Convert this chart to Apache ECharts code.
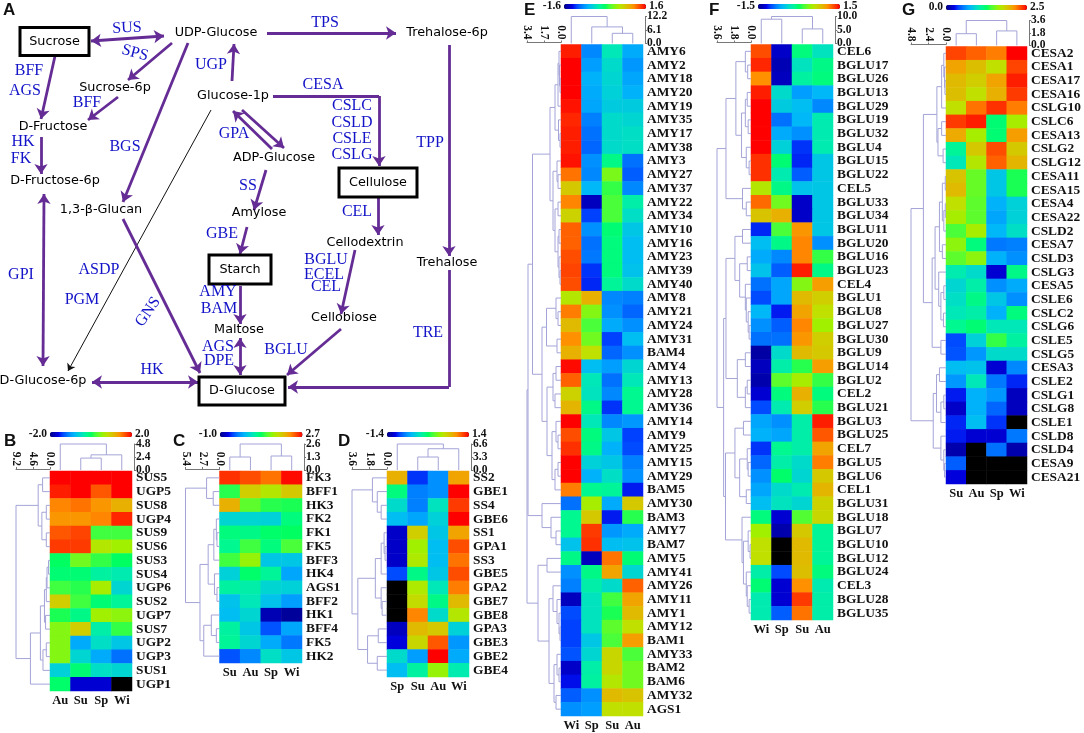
<!DOCTYPE html>
<html><head><meta charset="utf-8">
<style>html,body{margin:0;padding:0;background:#fff}#c{width:1084px;height:733px}</style>
<script src="https://cdn.jsdelivr.net/npm/echarts@6/dist/echarts.min.js"></script>
</head><body><div id="c"></div><script>
// Heat levels are positions on each panel's colour bar (0 = low end, 100 = high end); -1 = black, off-scale cell.
const bGenes=['SUS5','UGP5','SUS8','UGP4','SUS9','SUS6','SUS3','SUS4','UGP6','SUS2','UGP7','SUS7','UGP2','UGP3','SUS1','UGP1'];
const bSeasons=['Au','Su','Sp','Wi'];
const bRange=[-2.0,2.0];
const bLevels=[[100,100,100,100],[97,100,91,100],[86,88,84,80],[84,84,86,96],[91,93,55,55],[94,94,68,65],[50,60,54,50],[48,48,43,41],[55,53,66,36],[74,55,48,44],[52,46,65,63],[62,74,42,54],[62,28,38,33],[62,36,28,20],[35,48,38,36],[49,8,8,-1]];
const bRowTree=[9.2,[3.2,[2.0,0,1],[2.2,[1.0,2,3],[1.0,4,5]]],[5.3,[2.6,[1.5,[1.0,[0.8,[0.4,6,7],8],9],[1.2,10,11]],[1.9,[1.0,12,13],14]],15]];
const bColTree=[4.8,0,[2.8,[2.2,1,2],3]];

const cGenes=['FK3','BFF1','HK3','FK2','FK1','FK5','BFF3','HK4','AGS1','BFF2','HK1','BFF4','FK5','HK2'];
const cSeasons=['Su','Au','Sp','Wi'];
const cRange=[-1.0,2.7];
const cLevels=[[95,92,88,99],[53,74,68,75],[80,58,53,52],[36,36,35,47],[47,46,49,50],[45,55,47,56],[55,64,33,33],[35,49,44,27],[43,42,36,35],[32,40,32,26],[31,36,5,2],[43,33,17,27],[44,36,28,21],[17,23,38,33]];
const cRowTree=[5.4,[2.05,0,[1.0,1,2]],[3.1,[1.8,[0.9,[0.5,3,[0.4,4,5]],6],[0.8,7,[0.4,8,9]]],[2.5,[1.3,10,[0.5,11,12]],13]]];
const cColTree=[2.6,[1.3,0,1],[1.4,2,3]];

const dGenes=['SS2','GBE1','SS4','GBE6','SS1','GPA1','SS3','GBE5','GPA2','GBE7','GBE8','GPA3','GBE3','GBE2','GBE4'];
const dSeasons=['Sp','Su','Au','Wi'];
const dRange=[-1.4,1.4];
const dLevels=[[80,14,24,82],[47,22,24,100],[37,22,39,94],[31,27,35,100],[7,74,33,82],[7,65,31,92],[7,67,31,88],[16,46,33,92],[-1,67,40,87],[-1,71,46,78],[-1,86,37,68],[6,78,75,35],[9,72,91,25],[37,26,100,28],[31,43,64,41]];
const dRowTree=[3.6,[1.5,0,[1.0,1,[0.6,2,3]]],[3.0,[1.2,[0.6,[0.3,4,[0.2,5,6]],7],[0.6,8,[0.5,9,10]]],[2.0,[0.9,11,12],[1.0,13,14]]]];
const dColTree=[6.6,0,[5.4,[3.3,1,2],3]];

const eGenes=['AMY6','AMY2','AMY18','AMY20','AMY19','AMY35','AMY17','AMY38','AMY3','AMY27','AMY37','AMY22','AMY34','AMY10','AMY16','AMY23','AMY39','AMY40','AMY8','AMY21','AMY24','AMY31','BAM4','AMY4','AMY13','AMY28','AMY36','AMY14','AMY9','AMY25','AMY15','AMY29','BAM5','AMY30','BAM3','AMY7','BAM7','AMY5','AMY41','AMY26','AMY11','AMY1','AMY12','BAM1','AMY33','BAM2','BAM6','AMY32','AGS1'];
const eSeasons=['Wi','Sp','Su','Au'];
const eRange=[-1.6,1.6];
const eLevels=[[97,23,40,28],[100,26,37,25],[100,29,36,27],[100,28,35,29],[98,27,34,34],[96,22,37,36],[97,20,37,38],[97,19,37,38],[98,24,46,20],[88,23,61,18],[75,30,54,23],[86,6,56,42],[73,15,56,38],[90,24,48,33],[90,20,47,31],[92,21,47,31],[93,14,47,32],[92,13,44,37],[68,80,23,22],[87,62,24,19],[78,56,28,24],[85,60,15,31],[80,70,19,24],[99,31,26,36],[90,40,20,40],[73,39,23,45],[79,46,14,45],[100,40,23,25],[92,47,33,15],[95,46,29,16],[100,35,33,22],[100,29,38,24],[87,45,44,12],[20,66,28,75],[45,75,12,53],[45,94,25,28],[32,95,31,32],[46,6,88,48],[24,46,82,36],[22,42,37,90],[6,39,55,82],[16,39,52,78],[15,39,58,70],[15,33,56,83],[17,36,72,56],[7,42,72,60],[11,43,68,60],[18,24,78,76],[24,26,70,70]];
const eRowTree=[3.4,[3.3,[2.85,[1.1,[0.6,[0.3,[0.2,0,[0.15,1,[0.1,2,3]]],4],[0.25,5,[0.1,6,7]]],[0.8,[0.4,8,[0.3,9,10]],[0.6,[0.3,11,12],[0.3,[0.2,13,14],[0.2,15,[0.1,16,17]]]]]],[1.9,[1.45,[0.5,18,[0.3,19,20]],[0.4,21,22]],[1.4,[0.8,[0.5,23,24],[0.6,25,26]],[0.9,[0.5,27,[0.3,28,29]],[0.6,[0.3,30,31],32]]]]],[1.9,33,[1.0,34,[0.5,35,36]]]],[2.3,[1.4,37,38],[1.2,[0.8,39,[0.4,40,[0.2,41,[0.1,42,43]]]],[0.7,[0.4,44,[0.2,45,46]],[0.5,47,48]]]]];
const eColTree=[12.2,0,[7.5,1,[4.6,2,3]]];

const fGenes=['CEL6','BGLU17','BGLU26','BGLU13','BGLU29','BGLU19','BGLU32','BGLU4','BGLU15','BGLU22','CEL5','BGLU33','BGLU34','BGLU11','BGLU20','BGLU16','BGLU23','CEL4','BGLU1','BGLU8','BGLU27','BGLU30','BGLU9','BGLU14','BGLU2','CEL2','BGLU21','BGLU3','BGLU25','CEL7','BGLU5','BGLU6','CEL1','BGLU31','BGLU18','BGLU7','BGLU10','BGLU12','BGLU24','CEL3','BGLU28','BGLU35'];
const fSeasons=['Wi','Sp','Su','Au'];
const fRange=[-1.5,1.5];
const fLevels=[[92,7,47,39],[96,5,39,46],[85,6,43,47],[97,37,26,30],[100,34,31,23],[100,20,30,41],[100,28,24,41],[100,35,14,41],[95,48,13,33],[95,41,18,33],[68,46,32,33],[89,60,7,33],[76,80,7,33],[13,56,84,33],[31,46,86,24],[28,23,86,54],[32,18,97,46],[20,27,62,83],[16,27,78,74],[30,12,82,70],[24,18,86,65],[20,20,84,74],[3,37,78,75],[6,42,53,83],[4,58,66,54],[8,47,80,47],[16,41,74,53],[27,24,42,97],[29,27,42,91],[14,45,42,82],[19,42,37,87],[24,49,36,75],[27,37,41,79],[31,39,36,73],[47,8,57,72],[65,4,75,44],[70,-1,78,44],[70,-1,78,44],[42,16,77,47],[48,8,85,41],[41,8,94,42],[41,18,88,42]];
const fRowTree=[3.6,[2.65,[1.6,[0.6,0,[0.35,1,2]],[1.0,[0.6,[0.4,3,4],[0.3,5,6]],[0.5,7,[0.2,8,9]]]],[0.9,10,[0.5,11,12]]],[2.9,[2.65,[1.7,[0.9,13,14],[1.2,[0.4,15,16],[0.6,17,[0.5,18,[0.3,19,[0.2,20,21]]]]]],[1.45,[0.6,22,23],[0.6,[0.4,24,25],26]]],[2.7,[1.7,[0.8,27,28],[1.2,[0.4,29,[0.3,30,31]],[0.5,32,33]]],[0.95,34,[0.8,[0.3,35,[0.1,36,37]],[0.5,38,[0.4,39,[0.2,40,41]]]]]]]];
const fColTree=[10.0,[9.0,0,1],[5.4,2,3]];

const gGenes=['CESA2','CESA1','CESA17','CESA16','CSLG10','CSLC6','CESA13','CSLG2','CSLG12','CESA11','CESA15','CESA4','CESA22','CSLD2','CESA7','CSLD3','CSLG3','CESA5','CSLE6','CSLC2','CSLG6','CSLE5','CSLG5','CESA3','CSLE2','CSLG1','CSLG8','CSLE1','CSLD8','CSLD4','CESA9','CESA21'];
const gSeasons=['Su','Au','Sp','Wi'];
const gRange=[0.0,2.5];
const gLevels=[[93,90,87,100],[82,77,70,93],[78,74,82,97],[77,70,80,94],[70,88,95,87],[94,97,48,66],[81,66,48,83],[44,75,92,75],[40,68,90,79],[76,59,33,52],[78,59,33,52],[70,58,29,35],[66,58,27,35],[56,66,30,38],[63,47,21,22],[58,63,29,24],[41,37,8,46],[36,42,24,28],[38,46,33,24],[40,42,29,47],[45,48,40,40],[16,35,54,43],[17,25,37,37],[31,32,8,23],[25,40,21,13],[12,29,25,6],[7,29,19,6],[13,31,14,-1],[12,8,8,21],[4,-1,20,4],[18,-1,-1,-1],[9,-1,-1,-1]];
const gRowTree=[4.8,[3.1,[1.25,[0.6,[0.3,0,[0.2,1,[0.15,2,3]]],4],[1.1,[0.6,5,6],[0.4,7,8]]],[1.9,[1.5,[0.9,[0.5,[0.1,9,10],[0.3,[0.1,11,12],13]],[0.5,14,15]],[1.0,16,[0.7,[0.3,17,18],[0.35,19,20]]]],[0.7,21,22]]],[1.75,[1.3,[0.9,23,24],[0.7,[0.3,25,26],27]],[0.7,28,[0.3,29,[0.2,30,31]]]]];
const gColTree=[3.6,[1.7,0,1],[2.1,2,3]];

const metabolites=['UDP-Glucose','Trehalose-6p','Sucrose-6p','Glucose-1p','D-Fructose','D-Fructose-6p','ADP-Glucose','1,3-β-Glucan','Amylose','Cellodextrin','Trehalose','Cellobiose','Maltose','D-Glucose-6p'];
const boxedMetabolites=['Sucrose','Cellulose','Starch','D-Glucose'];

// ---------- layout (not data) ----------
const metaPos=[[216,33],[447,33],[115,88],[233,96],[53,127],[55,181],[274,158],[101,210],[259,213],[365,243],[447,263],[344,318],[239,330],[43,381]];
const boxPos=[[54.5,41.5,69,28],[378,182.5,78,29],[240,269.5,62,29],[242,391,86,28]];
// enzyme label, x, y, rotation
const enzymeLayout=[['SUS',127,28,3],['SPS',135,53,-15],['TPS',325,23,0],['UGP',211,65,0],['BFF',29,71,0],['AGS',25,91,0],['BFF',87,103,0],['CESA',323,85,0],['CSLC',352,106,0],['CSLD',352,123,0],['CSLE',352,139,0],['CSLG',352,155,0],['GPA',234,134,0],['HK',23,142,0],['FK',21,159,0],['BGS',125,147,0],['TPP',430,143,0],['SS',248,186,0],['CEL',357,212,0],['GBE',222,234,0],['BGLU',326,260,0],['ECEL',324,275,0],['CEL',326,287,0],['ASDP',99,270,0],['GPI',21,275,0],['PGM',82,300,0],['AMY',218,292,0],['BAM',219,309,0],['GNS',148,312,55],['AGS',218,347,0],['DPE',219,361,0],['BGLU',286,350,0],['TRE',428,333,0],['HK',152,370,0]];
// x1,y1,x2,y2, heads: 0 none, 1 end, 2 both, 3 thin black
const arrowLayout=[[91,41,164,36,2],[172,43,128,80,1],[188,43,123,202,1],[232,81,234,44,1],[267,33,396,33,1],[449,45,449,256,1],[449,270,449,387,0],[449,387,288,387,1],[55,56,41,119,1],[118,97,88,120,1],[41,137,41,174,1],[44,194,43,366,2],[211,110,68,371,3],[123,219,200,373,1],[92,382,198,382,2],[242,110,284,148,1],[272,149,233,111,1],[266,170,254,210,1],[247,227,240,254,1],[240,286,240,324,1],[240,338,240,375,2],[273,96,379,96,0],[379,96,379,166,1],[378,197,378,235,1],[355,250,341,314,1],[341,329,287,375,1]];
const panelLayout=[
 {g:bGenes,s:bSeasons,r:bRange,l:bLevels,rt:bRowTree,ct:bColTree,x:50,w:82,y:471,h:220,dw:34,dh:26,barX:50,barY:432,ltr:'B',lx:4,ly:433},
 {g:cGenes,s:cSeasons,r:cRange,l:cLevels,rt:cRowTree,ct:cColTree,x:219.5,w:82.5,y:471,h:192,dw:34,dh:26,barX:220,barY:432,ltr:'C',lx:173,ly:433},
 {g:dGenes,s:dSeasons,r:dRange,l:dLevels,rt:dRowTree,ct:dColTree,x:387,w:82,y:471,h:206,dw:35,dh:26,barX:387,barY:432,ltr:'D',lx:338,ly:433},
 {g:eGenes,s:eSeasons,r:eRange,l:eLevels,rt:eRowTree,ct:eColTree,x:561,w:82,y:44.5,h:671.5,dw:34,dh:27,barX:564,barY:4,ltr:'E',lx:524,ly:2},
 {g:fGenes,s:fSeasons,r:fRange,l:fLevels,rt:fRowTree,ct:fColTree,x:751,w:82,y:44.5,h:575.5,dw:34,dh:27,barX:758,barY:4,ltr:'F',lx:709,ly:2},
 {g:gGenes,s:gSeasons,r:gRange,l:gLevels,rt:gRowTree,ct:gColTree,x:946,w:81,y:46.5,h:437.5,dw:35,dh:25,barX:946,barY:5,ltr:'G',lx:902,ly:2}
];
const ramp=['#00008b','#0000b4','#0000e6','#0040ff','#0070ff','#0098ff','#00b8f8','#00d0d8','#00e8b8','#00f890','#00ff60','#40ff40','#70fa20','#a0f000','#c0e000','#d4c800','#e8b000','#ff9000','#ff6000','#ff3000','#ff0000'];
const SERIF='"Liberation Serif","Times New Roman",serif';
const DEND='#a4a4d8';
const AXC='#777';
const LETTER={fontFamily:'"Liberation Sans"',fontWeight:'bold',fontSize:17,color:'#111'};

// tree [height,a,b] -> segments through the library's scales
function flatten(node,segs){
  if(typeof node==='number')return {p:node,h:0};
  const a=flatten(node[1],segs),b=flatten(node[2],segs),H=node[0];
  segs.push([a.h,a.p,H,a.p],[b.h,b.p,H,b.p],[H,a.p,H,b.p]);
  return {p:(a.p+b.p)/2,h:H};
}
const grid=[{left:0,top:0,width:1084,height:733}];
const xAxis=[{type:'value',gridIndex:0,min:0,max:1084,show:false}];
const yAxis=[{type:'value',gridIndex:0,min:0,max:733,inverse:true,show:false}];
const tbold={fontFamily:SERIF,fontWeight:'bold',color:'#111'};
const META={show:true,position:'inside',formatter:'{b}',color:'#000',fontFamily:'"DejaVu Sans"',fontSize:12.8};
const series=[
 {type:'lines',coordinateSystem:'cartesian2d',xAxisIndex:0,yAxisIndex:0,silent:true,z:2,
  data:arrowLayout.map(a=>({coords:[[a[0],a[1]],[a[2],a[3]]],
    symbol:a[4]===2?['arrow','arrow']:a[4]===0?['none','none']:['none','arrow'],
    symbolSize:a[4]===3?7:10,
    lineStyle:{color:a[4]===3?'#111':'#642c94',width:a[4]===3?1:2.8,curveness:0,opacity:1}}))},
 {type:'custom',xAxisIndex:0,yAxisIndex:0,silent:true,z:3,data:boxPos,
  encode:{x:0,y:1},
  renderItem:(p,api)=>{const c=api.coord([api.value(0),api.value(1)]),w=api.value(2),h=api.value(3);
    return {type:'rect',shape:{x:c[0]-w/2,y:c[1]-h/2,width:w,height:h},style:{fill:'#fff',stroke:'#000',lineWidth:3}};}},
 {type:'scatter',xAxisIndex:0,yAxisIndex:0,silent:true,z:4,symbolSize:0,
  itemStyle:{opacity:1},label:META,
  data:boxedMetabolites.map((n,i)=>({name:n,value:boxPos[i].slice(0,2)})).concat(metabolites.map((n,i)=>({name:n,value:metaPos[i]})))},
 {type:'scatter',xAxisIndex:0,yAxisIndex:0,silent:true,z:4,symbolSize:0,itemStyle:{opacity:1},
  data:enzymeLayout.map(e=>({name:e[0],value:[e[1],e[2]],
    label:{show:true,position:'inside',formatter:'{b}',rotate:e[3],color:'#1212c8',fontFamily:SERIF,fontSize:16}}))},
 // colour-bar end labels
 {type:'scatter',xAxisIndex:0,yAxisIndex:0,silent:true,z:4,symbolSize:0,itemStyle:{opacity:1},
  data:panelLayout.flatMap(P=>[
    {name:P.r[0].toFixed(1),value:[P.barX-3,P.barY+2.5],label:{show:true,position:'left',distance:0,formatter:'{b}',...tbold,fontSize:11.5}},
    {name:P.r[1].toFixed(1),value:[P.barX+P.w+3,P.barY+2.5],label:{show:true,position:'right',distance:0,formatter:'{b}',...tbold,fontSize:11.5}}])}
];
const visualMap=[],title=[{text:'A',left:3,top:2,padding:0,textStyle:LETTER}];

panelLayout.forEach(P=>{
  const n=P.g.length;
  // heat
  let gi=grid.length;
  grid.push({left:P.x,top:P.y,width:P.w,height:P.h});
  xAxis.push({type:'category',gridIndex:gi,data:P.s,axisLine:{show:false},axisTick:{show:false},
    axisLabel:{...tbold,fontSize:12.5,margin:3,interval:0}});
  yAxis.push({type:'category',gridIndex:gi,data:P.g,inverse:true,position:'right',axisLine:{show:false},axisTick:{show:false},
    axisLabel:{...tbold,fontSize:13.4,margin:4,interval:0,align:'left'}});
  const cells=[];
  P.l.forEach((row,r)=>row.forEach((v,c)=>cells.push([c,r,P.r[0]+(P.r[1]-P.r[0])*v/100])));
  visualMap.push({type:'continuous',seriesIndex:series.length,min:P.r[0],max:P.r[1],unboundedRange:false,orient:'horizontal',
    left:P.barX,top:P.barY,padding:0,itemWidth:5,itemHeight:P.w,calculable:false,hoverLink:false,
    inRange:{color:ramp},outOfRange:{color:'#000'}});
  series.push({type:'heatmap',xAxisIndex:gi,yAxisIndex:gi,data:cells,silent:true,itemStyle:{borderWidth:0},progressive:0});
  // row dendrogram
  const rs=[];flatten(P.rt,rs);
  gi=grid.length;
  grid.push({left:P.x-P.dw,top:P.y,width:P.dw,height:P.h});
  xAxis.push({type:'value',gridIndex:gi,min:0,max:P.rt[0],interval:P.rt[0]/2,inverse:true,position:'top',offset:2,
    splitLine:{show:false},axisLine:{show:true,onZero:false,lineStyle:{color:AXC}},axisTick:{show:true,length:2,lineStyle:{color:AXC}},
    axisLabel:{...tbold,fontSize:11.5,rotate:90,margin:3,showMinLabel:true,showMaxLabel:true,hideOverlap:false,formatter:v=>(+v).toFixed(1)}});
  yAxis.push({type:'value',gridIndex:gi,min:-0.5,max:n-0.5,inverse:true,show:false});
  series.push({type:'custom',xAxisIndex:gi,yAxisIndex:gi,silent:true,data:rs,
    encode:{x:[0,2],y:[1,3]},
    renderItem:(p,api)=>{const a=api.coord([api.value(0),api.value(1)]),b=api.coord([api.value(2),api.value(3)]);
      return {type:'line',shape:{x1:a[0],y1:a[1],x2:b[0],y2:b[1]},style:{stroke:DEND,lineWidth:1,fill:null}};}});
  // column dendrogram
  const cs=[];flatten(P.ct,cs);
  gi=grid.length;
  grid.push({left:P.x,top:P.y-P.dh-1,width:P.w,height:P.dh});
  xAxis.push({type:'value',gridIndex:gi,min:-0.5,max:3.5,show:false});
  yAxis.push({type:'value',gridIndex:gi,min:0,max:P.ct[0],interval:P.ct[0]/2,position:'right',offset:2,
    splitLine:{show:false},axisLine:{show:true,onZero:false,lineStyle:{color:AXC}},axisTick:{show:true,length:2,lineStyle:{color:AXC}},
    axisLabel:{...tbold,fontSize:11.5,margin:2,showMinLabel:true,showMaxLabel:true,hideOverlap:false,formatter:v=>(+v).toFixed(1)}});
  series.push({type:'custom',xAxisIndex:gi,yAxisIndex:gi,silent:true,data:cs,
    encode:{y:[0,2],x:[1,3]},
    renderItem:(p,api)=>{const a=api.coord([api.value(1),api.value(0)]),b=api.coord([api.value(3),api.value(2)]);
      return {type:'line',shape:{x1:a[0],y1:a[1],x2:b[0],y2:b[1]},style:{stroke:DEND,lineWidth:1,fill:null}};}});
  title.push({text:P.ltr,left:P.lx,top:P.ly,padding:0,textStyle:LETTER});
});
const chart=echarts.init(document.getElementById('c'),null,{renderer:'canvas'});
chart.setOption({animation:false,backgroundColor:'#fff',title,grid,xAxis,yAxis,visualMap,series});
</script></body></html>
